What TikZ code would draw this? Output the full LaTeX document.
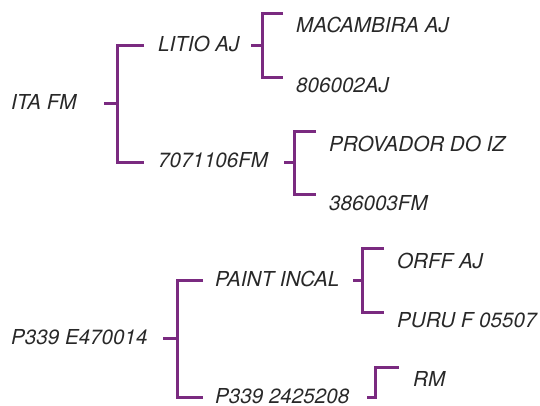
\documentclass[tikz,border=0pt]{standalone}
\usepackage{fontspec}
\setmainfont{TeX Gyre Heros}
\definecolor{brpurple}{RGB}{122,42,128}
\definecolor{txtgray}{RGB}{40,40,40}
\begin{document}
\begin{tikzpicture}[x=1pt,y=-1pt,
  lbl/.style={anchor=west,inner sep=0pt,text height=14.5pt,text depth=0pt,
    font=\fontsize{20.6}{23}\selectfont\itshape,text=txtgray},
  br/.style={draw=brpurple,line width=3pt}]
\useasboundingbox (0,0) rectangle (540,405);
% texts
\node[lbl] (ita) at (11,102) {ITA FM};
\node[lbl] (litio) at (158,44) {LITIO AJ};
\node[lbl] (n7071) at (158,160) {7071106FM};
\node[lbl] (maca) at (296,25) {MACAMBIRA AJ};
\node[lbl] (n806) at (296,85) {806002AJ};
\node[lbl] (prov) at (329,144) {PROVADOR DO IZ};
\node[lbl] (n386) at (329,203) {386003FM};
\node[lbl] (p339e) at (11,337) {P339 E470014};
\node[lbl] (paint) at (215,279) {PAINT INCAL};
\node[lbl] (p339b) at (215,396) {P339 2425208};
\node[lbl] (orff) at (397,261) {ORFF AJ};
\node[lbl] (puru) at (397,320) {PURU F 05507};
\node[lbl] (rm) at (413,379) {RM};
% bracket points
\coordinate (itaS) at (104,103);
\coordinate (itaJ) at (117.5,103);
\coordinate (litioE) at (144,45);
\coordinate (n7071E) at (144,162);
\coordinate (litioS) at (251,45);
\coordinate (litioJ) at (262,45);
\coordinate (macaE) at (283,13.5);
\coordinate (n806E) at (283,77);
\coordinate (n7071S) at (284,162);
\coordinate (n7071J) at (294.5,162);
\coordinate (provE) at (316,131);
\coordinate (n386E) at (316,194);
\coordinate (p339eS) at (163,338);
\coordinate (p339eJ) at (177.5,338);
\coordinate (paintE) at (203,280);
\coordinate (p339bE) at (203,397);
\coordinate (paintS) at (353,280);
\coordinate (paintJ) at (362.5,280);
\coordinate (orffE) at (384,248);
\coordinate (puruE) at (384,312);
\coordinate (p339bS) at (367,397);
\coordinate (rmE) at (399,367);
% connectors
\draw[br] (itaS) -- (itaJ);
\draw[br] (litioE) -- (litioE -| itaJ) -- (n7071E -| itaJ) -- (n7071E);
\draw[br] (litioS) -- (litioJ);
\draw[br] (macaE) -- (macaE -| litioJ) -- (n806E -| litioJ) -- (n806E);
\draw[br] (n7071S) -- (n7071J);
\draw[br] (provE) -- (provE -| n7071J) -- (n386E -| n7071J) -- (n386E);
\draw[br] (p339eS) -- (p339eJ);
\draw[br] (paintE) -- (paintE -| p339eJ) -- (p339bE -| p339eJ) -- (p339bE);
\draw[br] (paintS) -- (paintJ);
\draw[br] (orffE) -- (orffE -| paintJ) -- (puruE -| paintJ) -- (puruE);
\draw[br] (p339bS) -- (375.5,397) -- (375.5,367) -- (rmE);
\end{tikzpicture}
\end{document}
